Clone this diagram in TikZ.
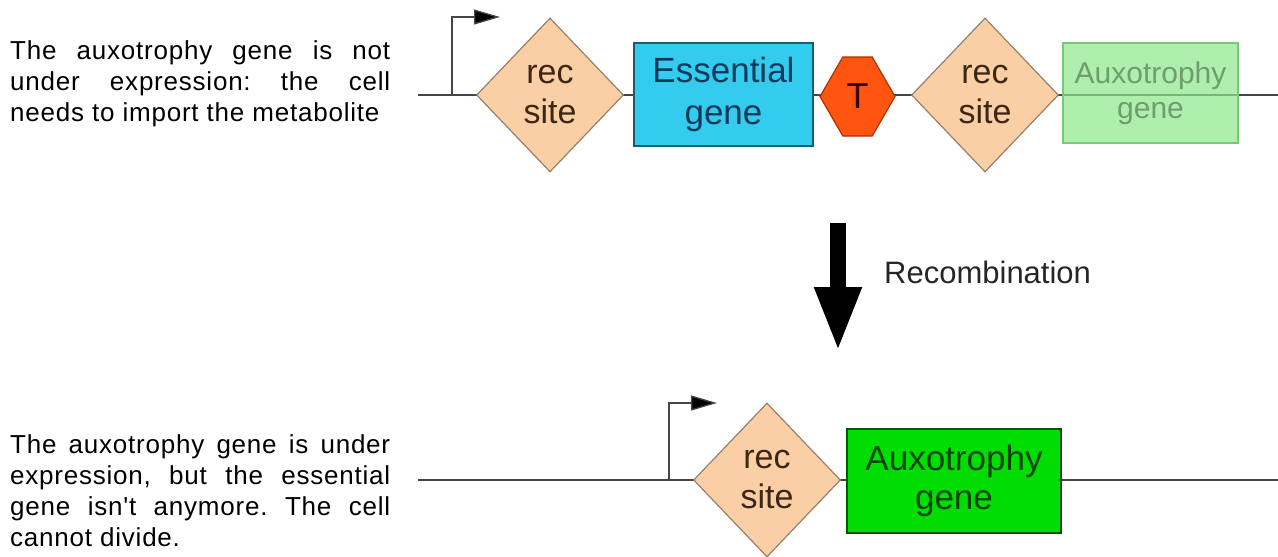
\documentclass[tikz,border=0pt]{standalone}
\usepackage{fontspec}
\setmainfont{Liberation Sans}
\newfontfamily\notefont[LetterSpace=3]{Liberation Sans}
\usepackage{xcolor}
\usetikzlibrary{shapes, shapes.geometric, shapes.symbols, arrows.meta, positioning}
\frenchspacing

\definecolor{dnagray}{RGB}{70,70,70}
\definecolor{recfill}{RGB}{251,207,165}
\definecolor{recline}{RGB}{150,128,105}
\definecolor{rectext}{RGB}{60,38,20}
\definecolor{essfill}{RGB}{51,204,238}
\definecolor{essline}{RGB}{30,90,120}
\definecolor{esstext}{RGB}{13,58,90}
\definecolor{termfill}{RGB}{255,85,17}
\definecolor{termline}{RGB}{176,48,0}
\definecolor{auxpale}{RGB}{140,232,140}
\definecolor{auxpaleline}{RGB}{120,200,120}
\definecolor{auxpaletext}{RGB}{110,158,110}
\definecolor{auxfill}{RGB}{0,221,0}
\definecolor{auxline}{RGB}{0,85,0}
\definecolor{auxtext}{RGB}{0,68,0}

\begin{document}
\begin{tikzpicture}[x=1pt, y=-1pt,
    dna/.style={draw=dnagray, line width=1.3pt},
    promoter/.style={draw=dnagray, line width=1.3pt, -{Triangle[length=26pt, width=15pt, fill=black]}},
    recsite/.style={diamond, draw=recline, fill=recfill, line width=1.2pt, inner sep=0pt, minimum width=147pt, minimum height=154pt, align=center, text=rectext, font=\fontsize{34}{40}\selectfont},
    gene/.style={draw, rectangle, line width=1.3pt, inner sep=0pt, align=center},
    note/.style={text width=380pt, align=justify, inner sep=0pt, anchor=north west, font=\notefont\fontsize{26}{31}\selectfont}]
    \useasboundingbox (0,0) rectangle (1278,557);

    \node[note] (topnote) at (10,40.5) {The auxotrophy gene is not\linebreak under expression: the cell\linebreak needs to import the metabolite};
    \node[note] (botnote) at (10,434.5) {The auxotrophy gene is under\linebreak expression, but the essential\linebreak gene isn't anymore. The cell\linebreak cannot divide.};

    \coordinate (dnaL1) at (418,95);
    \coordinate (dnaR1) at (1278,95);
    \coordinate (prom1) at (452,95);
    \coordinate (prom1tip) at (500,17);
    \draw[dna] (dnaL1) -- (dnaR1);
    \draw[promoter] (prom1) |- (prom1tip);

    \node[recsite] (rec1) at (550,95) {rec\\site};
    \node[gene, fill=essfill, draw=essline, text=esstext, minimum width=179pt, minimum height=103pt, font=\fontsize{35}{42}\selectfont] (ess) at (723.5,94.5) {Essential\\gene};
    \node[signal, signal to=west and east, signal pointer angle=120, draw=termline, fill=termfill, line width=1.2pt, minimum width=75pt, minimum height=79pt, inner sep=0pt, text=black!80!red, font=\fontsize{36}{40}\selectfont] (term) at (857.5,96.5) {T};
    \node[recsite] (rec2) at (985,95) {rec\\site};
    \node[gene, fill=auxpale, fill opacity=0.7, text opacity=1, draw=auxpaleline, text=auxpaletext, minimum width=175pt, minimum height=100pt, font=\fontsize{30}{35}\selectfont] (auxoff) at (1150.5,93) {Auxotrophy\\gene};

    \coordinate (recTop) at (838,223);
    \coordinate (recTip) at (838,352);
    \draw[line width=16pt, -{Triangle[length=65pt, width=43pt]}] (recTop) -- (recTip);
    \node[anchor=base west, inner sep=0pt, text=black!85, font=\fontsize{31}{36}\selectfont] (recomb) at (884,283) {Recombination};

    \coordinate (dnaL2) at (418,480);
    \coordinate (dnaR2) at (1278,480);
    \coordinate (prom2) at (669,480);
    \coordinate (prom2tip) at (717,403);
    \draw[dna] (dnaL2) -- (dnaR2);
    \draw[promoter] (prom2) |- (prom2tip);

    \node[recsite] (rec3) at (767,480) {rec\\site};
    \node[gene, fill=auxfill, draw=auxline, text=auxtext, minimum width=214pt, minimum height=104pt, font=\fontsize{35}{39}\selectfont] (auxon) at (954,481) {Auxotrophy\\gene};
\end{tikzpicture}
\end{document}
